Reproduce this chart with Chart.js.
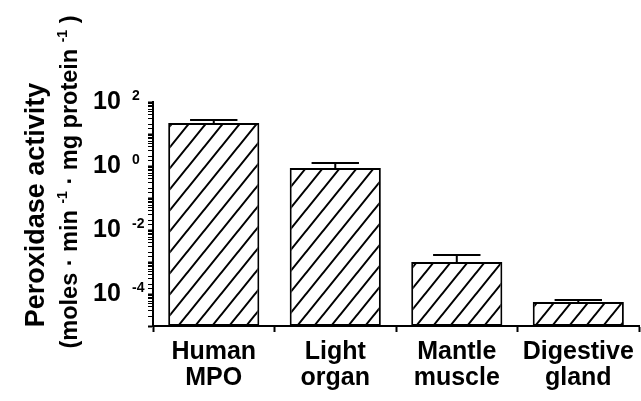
<!DOCTYPE html>
<html>
<head>
<meta charset="utf-8">
<script src="https://cdn.jsdelivr.net/npm/chart.js@4.4.1/dist/chart.umd.min.js"></script>
<style>
  html, body { margin: 0; padding: 0; background: #fff; }
  #wrap { width: 641px; height: 401px; }
</style>
</head>
<body>
<div id="wrap"><canvas id="peroxChart" width="641" height="401"></canvas></div>
<script>
// Peroxidase activity per tissue: log scale, hatched bars, upper error bars.

const categories = [
    ['Human', 'MPO'],
    ['Light', 'organ'],
    ['Mantle', 'muscle'],
    ['Digestive', 'gland'],
];
const activity = [22, 0.87, 1.0e-3, 5.6e-5];
const errorUp = [5.5, 0.37, 0.65e-3, 0.9e-5];
const tickExponents = ['2', '0', '-2', '-4'];
const yMin = 1e-5;
const yMax = 1e2;

const FONT = '"Liberation Sans", Arial, Helvetica, sans-serif';

function isDecade(v) {
    const l = Math.log10(v);
    return Math.abs(l - Math.round(l)) < 1e-6;
}

// diagonal "/" hatch
function makeHatch() {
    const w = 17, h = 21;
    const c = document.createElement('canvas');
    c.width = w;
    c.height = h;
    const g = c.getContext('2d');
    g.fillStyle = '#fff';
    g.fillRect(0, 0, w, h);
    g.strokeStyle = '#000';
    g.lineWidth = 2;
    g.beginPath();
    [-w, 0, w].forEach(dx => {
        g.moveTo(dx - w, 2 * h);
        g.lineTo(dx + 2 * w, -h);
    });
    g.stroke();
    return g.createPattern(c, 'repeat');
}

const errorBars = {
    id: 'errorBars',
    afterDatasetsDraw(chart) {
        const meta = chart.getDatasetMeta(0);
        const y = chart.scales.y;
        const ctx = chart.ctx;
        ctx.save();
        ctx.strokeStyle = '#000';
        ctx.lineWidth = 2;
        meta.data.forEach((bar, i) => {
            const top = y.getPixelForValue(activity[i]);
            const cap = y.getPixelForValue(activity[i] + errorUp[i]);
            const half = bar.width * 0.26;
            ctx.beginPath();
            ctx.moveTo(bar.x, top);
            ctx.lineTo(bar.x, cap);
            ctx.moveTo(bar.x - half, cap);
            ctx.lineTo(bar.x + half, cap);
            ctx.stroke();
        });
        ctx.restore();
    }
};

// y tick labels with superscripts, and the two-line y title
const axisText = {
    id: 'axisText',
    afterDraw(chart) {
        const ctx = chart.ctx;
        const y = chart.scales.y;
        ctx.save();
        ctx.fillStyle = '#000';
        ctx.textAlign = 'left';
        ctx.textBaseline = 'alphabetic';
        tickExponents.forEach(e => {
            const py = y.getPixelForValue(Math.pow(10, Number(e)));
            ctx.font = 'bold 25px ' + FONT;
            ctx.fillText('10', 93, py + 6.5);
            ctx.font = 'bold 14px ' + FONT;
            ctx.fillText(e, 132, py - 2.5);
        });

        ctx.save();
        ctx.translate(44, 205);
        ctx.rotate(-Math.PI / 2);
        ctx.textAlign = 'center';
        ctx.font = 'bold 27px ' + FONT;
        ctx.fillText('Peroxidase activity', 0, 0);
        ctx.restore();

        const parts = [
            ['(moles \u00b7 min ', false],
            ['-1', true],
            [' \u00b7 mg protein ', false],
            ['-1', true],
            [' )', false],
        ];
        const big = 'bold 23.5px ' + FONT;
        const small = 'bold 14px ' + FONT;
        let total = 0;
        parts.forEach(p => {
            ctx.font = p[1] ? small : big;
            total += ctx.measureText(p[0]).width;
        });
        ctx.save();
        ctx.translate(77, 182);
        ctx.rotate(-Math.PI / 2);
        ctx.textAlign = 'left';
        let x = -total / 2;
        parts.forEach(p => {
            ctx.font = p[1] ? small : big;
            ctx.fillText(p[0], x, p[1] ? -10 : 0);
            x += ctx.measureText(p[0]).width;
        });
        ctx.restore();
        ctx.restore();
    }
};

new Chart(document.getElementById('peroxChart'), {
    type: 'bar',
    data: {
        labels: categories,
        datasets: [{
            data: activity,
            backgroundColor: makeHatch(),
            borderColor: '#000',
            borderWidth: 2,
            borderSkipped: false,
            barPercentage: 0.75,
            categoryPercentage: 1,
        }]
    },
    options: {
        responsive: false,
        animation: false,
        layout: { padding: { top: 102, right: 1, left: 0, bottom: 0 } },
        plugins: { legend: { display: false }, tooltip: { enabled: false } },
        scales: {
            x: {
                grid: { drawOnChartArea: false, tickLength: 6, tickColor: '#000', tickWidth: 2 },
                border: { color: '#000', width: 2 },
                ticks: {
                    color: '#000',
                    font: { family: FONT, size: 25, weight: 'bold', lineHeight: 1.04 },
                    padding: 7,
                    maxRotation: 0,
                    autoSkip: false,
                },
                afterFit: s => { s.height = 75; },
            },
            y: {
                type: 'logarithmic',
                min: yMin,
                max: yMax,
                grid: {
                    drawOnChartArea: false,
                    tickLength: 5,
                    tickColor: '#000',
                    tickWidth: c => (c.tick && isDecade(c.tick.value)) ? 2 : 1,
                },
                border: { color: '#000', width: 2 },
                ticks: { autoSkip: false, callback: () => '', padding: 0 },
                afterFit: s => { s.width = 153; },
            }
        }
    },
    plugins: [errorBars, axisText]
});
</script>
</body>
</html>
